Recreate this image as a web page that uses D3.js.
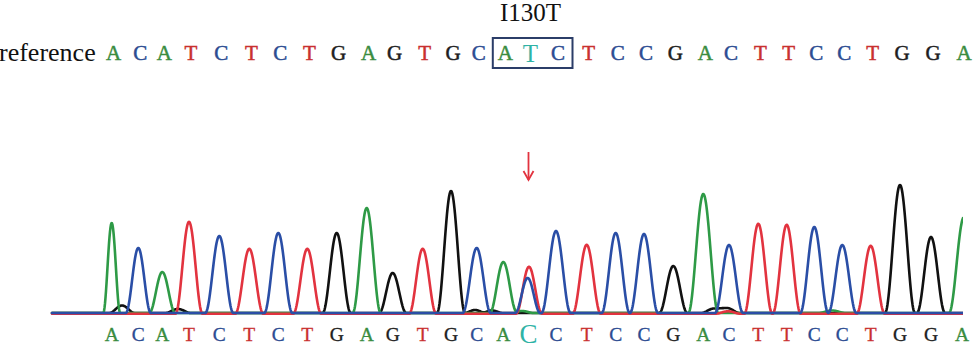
<!DOCTYPE html>
<html><head><meta charset="utf-8">
<script src="https://cdn.jsdelivr.net/npm/d3@7"></script>
<style>html,body{margin:0;padding:0;background:#fff;}svg{display:block;}</style>
</head><body>
<svg id="chart" width="979" height="356"></svg>
<script>
// ---- data ----
const referenceSeq = "ACATCTCTGAGTGCATCTCCGACTTCCTGGA".split("");
const calledSeq    = "ACATCTCTGAGTGCACCTCCGACTTCCTGGA".split("");
const callPositions = [59.7, 86.3, 110.3, 137, 167.3, 197.3, 226.3, 255.3, 284.7, 314.7, 340.7, 370.7, 399, 424.7, 451.3, 476.5, 504, 534.7, 563.7, 592, 621.3, 651.3, 677, 706.3, 734.7, 762.3, 790.3, 818.7, 848, 879, 910];
const mutationIndex = 15;
const mutationLabel = "I130T";
const rowLabel = "reference";

// trace peaks per channel (scan position, signal height, peak half-width at base)
const aPos = [59.7, 110.3, 314.7, 451.3, 651.3, 912, 780, 470];
const aHeight = [900, 410, 1050, 510, 1190, 960, 25, 20];
const aWidth = [8.5, 13, 14, 13.5, 15, 15, 14, 12];

const cPos = [86.3, 167.3, 226.3, 424.7, 475.7, 504, 563.7, 592, 677, 762.3, 790.3];
const cHeight = [650, 770, 800, 650, 350, 820, 800, 790, 680, 860, 680];
const cWidth = [12.5, 14, 14, 14, 12.5, 14.5, 14, 14, 14, 14, 14];

const gPos = [284.7, 340.7, 399, 621.3, 848, 879, 70, 126, 423, 440, 662, 675];
const gHeight = [800, 400, 1220, 470, 1280, 760, 75, 40, 30, 25, 45, 50];
const gWidth = [14, 13.5, 14, 14, 15, 14, 13, 13, 11, 11, 13, 13];

const tPos = [137, 197.3, 255.3, 370.7, 477, 534.7, 706.3, 734.7, 818.7, 676];
const tHeight = [920, 650, 650, 650, 470, 690, 900, 890, 680, 25];
const tWidth = [13.5, 14, 14, 13.5, 13, 14, 14, 14, 14, 13];

const baseColors = {A: "#2e9a46", C: "#2a4ea6", G: "#111111", T: "#e2333f"};
const letterColors = {A: "#3a8c3f", C: "#2c4c92", G: "#1e1e1e", T: "#c9302f"};
const mutColor = "#2fb3a6";

// ---- drawing ----
const svg = d3.select("#chart");
const W = 979, H = 356;
const x = d3.scaleLinear().domain([0, 911]).range([52, 963]);
const y = d3.scaleLinear().domain([0, 1300]).range([313, 183]);

const scan = d3.range(0, 911.01, 0.5);
function peakShape(d) { // compact bell: raised cosine with soft tail
  const a = Math.abs(d);
  if (a >= 1) return 0;
  const c = Math.cos(Math.PI * a / 2);
  return c * c;
}
function trace(pos, hts, wid) {
  return scan.map(s => {
    let v = 0;
    for (let i = 0; i < pos.length; i++) v += hts[i] * peakShape((s - pos[i]) / wid[i]);
    return [s, v];
  });
}

svg.append("defs").append("clipPath").attr("id", "clip")
  .append("rect").attr("x", x(0) - 2).attr("y", 0).attr("width", x(911) - x(0) + 2).attr("height", H);

const line = d3.line().x(d => x(d[0])).y(d => y(d[1]));
const g = svg.append("g").attr("clip-path", "url(#clip)");
const channels = [
  {b: "G", pos: gPos, h: gHeight, w: gWidth, off: 0},
  {b: "A", pos: aPos, h: aHeight, w: aWidth, off: 0},
  {b: "T", pos: tPos, h: tHeight, w: tWidth, off: -8},
  {b: "C", pos: cPos, h: cHeight, w: cWidth, off: 0}
];
channels.forEach(ch => {
  const data = trace(ch.pos, ch.h, ch.w).map(d => [d[0], d[1] + ch.off]);
  g.append("path").datum(data)
    .attr("d", line)
    .attr("fill", "none")
    .attr("stroke", baseColors[ch.b])
    .attr("stroke-width", 2.6)
    .attr("stroke-linejoin", "round")
    .attr("stroke-linecap", "round");
});

const serif = "'Liberation Serif','Times New Roman',Times,serif";

// reference row
svg.append("text").attr("x", -1).attr("y", 61)
  .attr("font-family", serif).attr("font-size", 26).attr("fill", "#111")
  .text(rowLabel);

svg.append("g").selectAll("text").data(referenceSeq).join("text")
  .attr("x", (d, i) => x(callPositions[i]) + 2)
  .attr("y", (d, i) => i === mutationIndex ? 62 : 60)
  .attr("text-anchor", "middle")
  .attr("font-family", serif)
  .attr("font-size", (d, i) => i === mutationIndex ? 25 : 21)
  .attr("fill", (d, i) => i === mutationIndex ? mutColor : letterColors[d])
  .attr("stroke", (d, i) => i === mutationIndex ? "none" : letterColors[d])
  .attr("stroke-width", 0.5)
  .text(d => d);

// codon box
const bx0 = x(callPositions[mutationIndex - 1]) + 2 - 12.5;
const bx1 = x(callPositions[mutationIndex + 1]) + 2 + 14.5;
svg.append("rect").attr("x", bx0).attr("y", 38).attr("width", bx1 - bx0).attr("height", 30)
  .attr("fill", "none").attr("stroke", "#2b3d68").attr("stroke-width", 2);

svg.append("text").attr("x", x(callPositions[mutationIndex]) + 2).attr("y", 21)
  .attr("text-anchor", "middle").attr("font-family", serif).attr("font-size", 25).attr("fill", "#111")
  .text(mutationLabel);

// called bases row
svg.append("g").selectAll("text").data(calledSeq).join("text")
  .attr("x", (d, i) => x(callPositions[i]))
  .attr("y", (d, i) => i === mutationIndex ? 343 : 341)
  .attr("text-anchor", "middle")
  .attr("font-family", serif)
  .attr("font-size", (d, i) => i === mutationIndex ? 27 : 19.5)
  .attr("fill", (d, i) => i === mutationIndex ? mutColor : letterColors[d])
  .attr("stroke", (d, i) => i === mutationIndex ? "none" : letterColors[d])
  .attr("stroke-width", 0.3)
  .text(d => d);

// arrow
const ax = x(callPositions[mutationIndex]);
svg.append("line").attr("x1", ax).attr("x2", ax).attr("y1", 152).attr("y2", 180)
  .attr("stroke", "#e2333f").attr("stroke-width", 1.8);
svg.append("path").attr("d", `M${ax - 5},${171} L${ax},${180} L${ax + 5},${171}`)
  .attr("fill", "none").attr("stroke", "#e2333f").attr("stroke-width", 1.8);
</script>
</body></html>
